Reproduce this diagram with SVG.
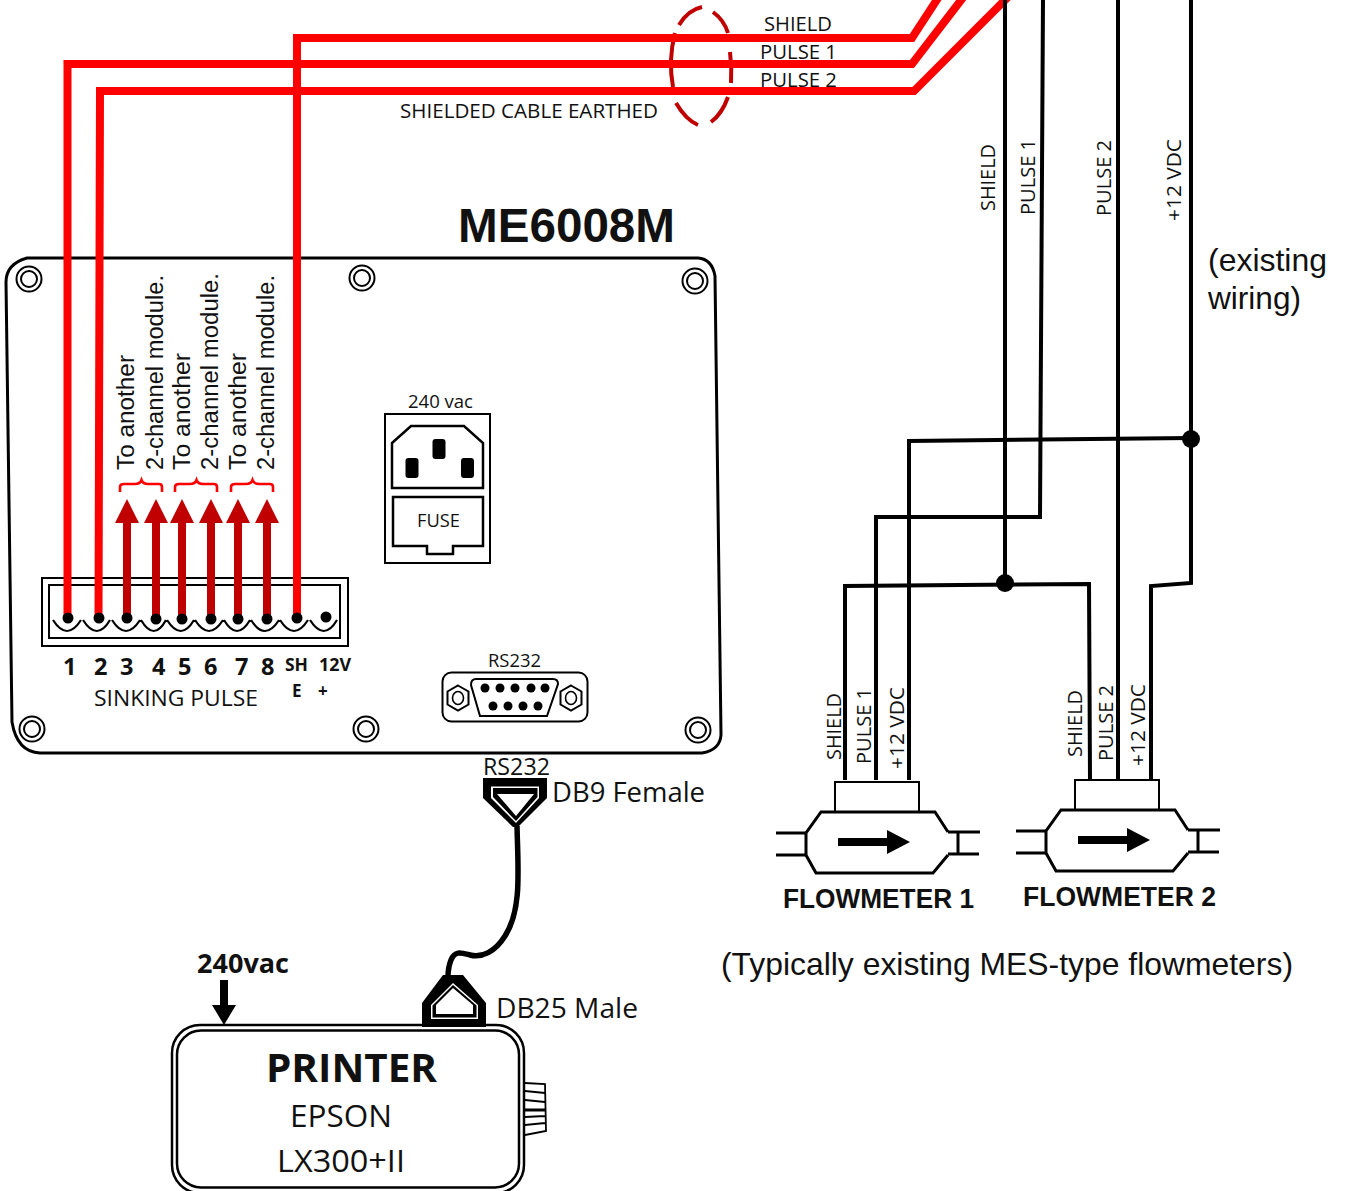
<svg xmlns="http://www.w3.org/2000/svg" xmlns:xlink="http://www.w3.org/1999/xlink" width="1345" height="1191" viewBox="0 0 1345 1191">
<style>
text{font-family:"Open Sans","Liberation Sans",sans-serif;fill:#111}
.a{font-family:"Liberation Sans",Arial,sans-serif}
.b{font-weight:700}
.ln{fill:none;stroke:#000}
.red{fill:none;stroke:#f00;stroke-width:8;stroke-linejoin:miter}
.dr{fill:none;stroke:#c00000}
.wire{fill:none;stroke:#000;stroke-width:4}
.k{fill:#000}
.w{fill:#fff}
</style>
<defs>
<g id="screw"><circle r="12.5" fill="#fff" stroke="#000" stroke-width="2"/><circle r="8" fill="none" stroke="#000" stroke-width="2"/></g>
<g id="hex"><path d="M0 -12.500L10.500 -6.500V6.500L0 12.500L-10.500 6.500V-6.500Z" fill="none" stroke="#000" stroke-width="2"/><ellipse rx="5.500" ry="6.500" fill="none" stroke="#000" stroke-width="1.600"/></g>
<g id="up"><path d="M-12 24L0 0L12 24Z" fill="#c00000"/><rect x="-4" y="23" width="8" height="96" fill="#c00000"/></g>
<path id="brace" d="M0 492V487Q0 484 4 484H15Q20 484 21.500 480Q23 484 28 484H39Q42 484 42 487V492" fill="none" stroke="#f00" stroke-width="2.600"/>
<g id="fm">
<rect x="835" y="782" width="84" height="30" fill="#fff" stroke="#000" stroke-width="2"/>
<path d="M821 812H935L948 832V855L933 873H816L806 855V833Z" fill="#fff"/>
<path d="M948 832L935 812H821L806 833V855L816 873H933L948 855" fill="none" stroke="#000" stroke-width="3"/>
<path d="M776 833H806M776 855H806M948 832H980M948 854H979M958 832V854" fill="none" stroke="#000" stroke-width="3"/>
<path d="M838 838H887V830L910 842L887 854V846H838Z" fill="#000"/>
</g>
</defs>

<g id="panel">
<path class="ln" stroke-width="3" d="M27 258H698Q712 259 715 276L721 735Q720 750 702 753H40Q17 752 12 722L6 282Q6 264 27 258Z" fill="#fff"/>
<use href="#screw" x="29" y="279"/><use href="#screw" x="362" y="278"/><use href="#screw" x="695" y="281"/>
<use href="#screw" x="32" y="729"/><use href="#screw" x="366" y="729"/><use href="#screw" x="698" y="730"/>
<text class="a b" x="458" y="242" font-size="48" textLength="217" lengthAdjust="spacingAndGlyphs">ME6008M</text>
</g>

<g id="terminal-block">
<rect x="42" y="578" width="306" height="68" class="ln" stroke-width="2"/>
<rect x="49" y="585" width="291" height="53" class="ln" stroke-width="2"/>
<path fill="none" stroke="#000" stroke-width="2.200" d="M53 620Q67 642 81 620M83 620Q97 642 110 620M112 620Q126 642 140 620M141 620Q154 642 166 620M167 620Q181 642 194 620M195 620Q209 642 223 620M224 620Q237 642 250 620M251 620Q265 642 279 620M280 620Q294 642 308 620M310 620Q324 642 337 620"/>
<use href="#up" x="127" y="499"/><use href="#up" x="156" y="499"/><use href="#up" x="182" y="499"/><use href="#up" x="211" y="499"/><use href="#up" x="238" y="499"/><use href="#up" x="267" y="499"/>
<use href="#brace" x="120"/><use href="#brace" x="175"/><use href="#brace" x="231"/>
<g font-size="23">
<text class="a" transform="translate(134 470) rotate(-90)" textLength="115" lengthAdjust="spacingAndGlyphs">To another</text>
<text class="a" transform="translate(163 470) rotate(-90)" textLength="195" lengthAdjust="spacingAndGlyphs">2-channel module.</text>
<text class="a" transform="translate(190 470) rotate(-90)" textLength="117" lengthAdjust="spacingAndGlyphs">To another</text>
<text class="a" transform="translate(218 470) rotate(-90)" textLength="197" lengthAdjust="spacingAndGlyphs">2-channel module.</text>
<text class="a" transform="translate(246 470) rotate(-90)" textLength="117" lengthAdjust="spacingAndGlyphs">To another</text>
<text class="a" transform="translate(274 470) rotate(-90)" textLength="195" lengthAdjust="spacingAndGlyphs">2-channel module.</text>
</g>
<g font-size="23.500">
<text x="63" y="675" class="b">1</text><text x="94" y="675" class="b">2</text><text x="120" y="675" class="b">3</text><text x="152" y="675" class="b">4</text><text x="178" y="675" class="b">5</text><text x="204" y="675" class="b">6</text><text x="235" y="675" class="b">7</text><text x="261" y="675" class="b">8</text>
</g>
<text class="b" x="285" y="671" font-size="17" textLength="23" lengthAdjust="spacingAndGlyphs">SH</text>
<text class="b" x="292" y="697" font-size="17">E</text>
<text class="b" x="319" y="671" font-size="17" textLength="32" lengthAdjust="spacingAndGlyphs">12V</text>
<text class="b" x="318" y="697" font-size="17">+</text>
<text x="94" y="706" font-size="22" textLength="164" lengthAdjust="spacingAndGlyphs">SINKING PULSE</text>
</g>

<g id="power-inlet">
<rect x="385" y="414" width="105" height="149" class="ln" stroke-width="2"/>
<text x="408" y="408" font-size="18" textLength="65" lengthAdjust="spacingAndGlyphs">240 vac</text>
<path class="ln" stroke-width="2.500" d="M392 443L411 426H464L483 443V488H392Z"/>
<rect x="432.500" y="439" width="13" height="20" rx="3" class="k"/><rect x="405.500" y="458" width="13" height="20" rx="3" class="k"/><rect x="461" y="458" width="13" height="20" rx="3" class="k"/>
<path class="ln" stroke-width="2.500" d="M393 497H483V546H453V554H427V546H393Z"/>
<text x="417" y="527" font-size="18" textLength="43" lengthAdjust="spacingAndGlyphs">FUSE</text>
</g>

<g id="rs232-port">
<text x="488" y="667" font-size="18" textLength="53" lengthAdjust="spacingAndGlyphs">RS232</text>
<rect x="442.500" y="672.500" width="145" height="49" rx="9" class="ln" stroke-width="2"/>
<path class="ln" stroke-width="2" d="M476 679H553Q558 679 558 684L547 716H480L471 685Q471 679 476 679Z"/>
<use href="#hex" x="458" y="698"/><use href="#hex" x="571" y="698"/>
<g class="k"><circle cx="485" cy="688" r="4.500"/><circle cx="500" cy="688" r="4.500"/><circle cx="515" cy="688" r="4.500"/><circle cx="531" cy="688" r="4.500"/><circle cx="545" cy="688" r="4.500"/><circle cx="493" cy="706" r="4.500"/><circle cx="508" cy="706" r="4.500"/><circle cx="523" cy="706" r="4.500"/><circle cx="538" cy="706" r="4.500"/></g>
</g>

<g id="db9-connector">
<text x="483" y="775" font-size="23" textLength="67" lengthAdjust="spacingAndGlyphs">RS232</text>
<path class="k" d="M483 778H547V798L518 827H513L483 798Z"/>
<path class="w" d="M491 786.500H539V798L516 823L491 798Z"/>
<path class="k" d="M493 788H537.500V797L516 821L493 797Z"/>
<path class="w" d="M497 794H534L516 816Z"/>
<text x="552" y="802" font-size="27" textLength="153" lengthAdjust="spacingAndGlyphs">DB9 Female</text>
</g>

<g id="printer">
<path class="ln" stroke-width="1.800" d="M525 1083L545 1084L546 1131L525 1135M525 1091L545 1093M525 1100L545 1102M525 1117L545 1116M525 1125L545 1123"/>
<path class="ln" stroke-width="3" d="M525 1110H545"/>
<rect x="172" y="1025" width="352" height="168" rx="28" class="ln" stroke-width="2.500" fill="#fff"/>
<rect x="177" y="1030.500" width="342" height="157" rx="24" class="ln" stroke-width="2.500"/>
<text class="b" x="266" y="1082" font-size="40" textLength="171" lengthAdjust="spacingAndGlyphs">PRINTER</text>
<text x="290" y="1127" font-size="31" textLength="102" lengthAdjust="spacingAndGlyphs">EPSON</text>
<text x="277" y="1172" font-size="31" textLength="128" lengthAdjust="spacingAndGlyphs">LX300+II</text>
<text class="b" x="197" y="973" font-size="27" textLength="92" lengthAdjust="spacingAndGlyphs">240vac</text>
<path class="k" d="M220 980H228V1005H236L224 1025L212 1005H220Z"/>
</g>

<g id="db25-connector">
<path class="k" d="M422 1027V1003L443 975H463L486 1003V1027Z"/>
<path class="w" d="M431 1019V1005L453 983L478 1005V1019Z"/>
<path class="k" d="M432.500 1017.500V1005.500L453 985L476.500 1005.500V1017.500Z"/>
<path class="w" d="M436 1014V1005L453 988L473 1005V1014Z"/>
<text x="496" y="1018" font-size="27" textLength="142" lengthAdjust="spacingAndGlyphs">DB25 Male</text>
</g>

<g id="flowmeter-1">
<use href="#fm"/>
<text class="a b" x="783" y="908" font-size="27" textLength="191" lengthAdjust="spacingAndGlyphs">FLOWMETER 1</text>
</g>
<g id="flowmeter-2">
<use href="#fm" x="240" y="-2"/>
<text class="a b" x="1023" y="906" font-size="27" textLength="193" lengthAdjust="spacingAndGlyphs">FLOWMETER 2</text>
</g>

<g id="connectors">
<g class="dr" stroke-width="4" fill="none">
<path d="M679 25Q688 10 702 7"/><path d="M713 12Q724 20 728 33"/><path d="M730 52Q732 68 731 83"/><path d="M728 97Q722 114 711 122"/><path d="M698 125Q686 120 676 103"/><path d="M673 87Q668 60 675 33"/>
</g>
<path class="red" d="M67.500 618V64H912L965 -5"/>
<path class="red" d="M98.500 618L100 91H914L1010 -5"/>
<path class="red" d="M297 618V38H912L940 -5"/>
<path class="wire" d="M1005 -2V583"/>
<path class="wire" d="M1043 -2L1040 517H876V780"/>
<path class="wire" d="M1118 -2V779"/>
<path class="wire" d="M1191 -2V583L1151 586V779"/>
<path class="wire" d="M1191 438L909 441V780"/>
<path class="wire" d="M845 780V586L1089 584L1090 779"/>
<circle cx="1191" cy="439" r="9" class="k"/><circle cx="1005" cy="583" r="9" class="k"/>
<path fill="none" stroke="#000" stroke-width="5.500" d="M517 826C518 870 522 910 505 936C495 952 482 958 470 955C462 953 455 950 451 960C449 965 448 970 448 977"/>
<g class="k"><circle cx="68" cy="618" r="5.500"/><circle cx="99" cy="618" r="5.500"/><circle cx="127" cy="618" r="5.500"/><circle cx="156" cy="619" r="5.500"/><circle cx="182" cy="619" r="5.500"/><circle cx="211" cy="619" r="5.500"/><circle cx="238" cy="619" r="5.500"/><circle cx="267" cy="619" r="5.500"/><circle cx="297" cy="618" r="5.500"/><circle cx="326" cy="617" r="5.500"/></g>
</g>

<g id="labels" font-size="20">
<text x="764" y="30.500" textLength="68" lengthAdjust="spacingAndGlyphs">SHIELD</text>
<text x="760" y="59" textLength="77" lengthAdjust="spacingAndGlyphs">PULSE 1</text>
<text x="760" y="86.500" textLength="77" lengthAdjust="spacingAndGlyphs">PULSE 2</text>
<text x="400" y="118" textLength="258" lengthAdjust="spacingAndGlyphs">SHIELDED CABLE EARTHED</text>
<text transform="translate(995 211) rotate(-90)" textLength="67" lengthAdjust="spacingAndGlyphs">SHIELD</text>
<text transform="translate(1035 215) rotate(-90)" textLength="76" lengthAdjust="spacingAndGlyphs">PULSE 1</text>
<text transform="translate(1111 216) rotate(-90)" textLength="76" lengthAdjust="spacingAndGlyphs">PULSE 2</text>
<text transform="translate(1181 221) rotate(-90)" textLength="82" lengthAdjust="spacingAndGlyphs">+12 VDC</text>
<text transform="translate(841 760) rotate(-90)" textLength="67" lengthAdjust="spacingAndGlyphs">SHIELD</text>
<text transform="translate(871 764) rotate(-90)" textLength="76" lengthAdjust="spacingAndGlyphs">PULSE 1</text>
<text transform="translate(904 769) rotate(-90)" textLength="82" lengthAdjust="spacingAndGlyphs">+12 VDC</text>
<text transform="translate(1082 757) rotate(-90)" textLength="67" lengthAdjust="spacingAndGlyphs">SHIELD</text>
<text transform="translate(1113 761) rotate(-90)" textLength="76" lengthAdjust="spacingAndGlyphs">PULSE 2</text>
<text transform="translate(1145 766) rotate(-90)" textLength="82" lengthAdjust="spacingAndGlyphs">+12 VDC</text>
<text class="a" x="1208" y="271" font-size="32" textLength="119" lengthAdjust="spacingAndGlyphs">(existing</text>
<text class="a" x="1208" y="309" font-size="32" textLength="93" lengthAdjust="spacingAndGlyphs">wiring)</text>
<text class="a" x="721" y="975" font-size="32" textLength="572" lengthAdjust="spacingAndGlyphs">(Typically existing MES-type flowmeters)</text>
</g>
</svg>
